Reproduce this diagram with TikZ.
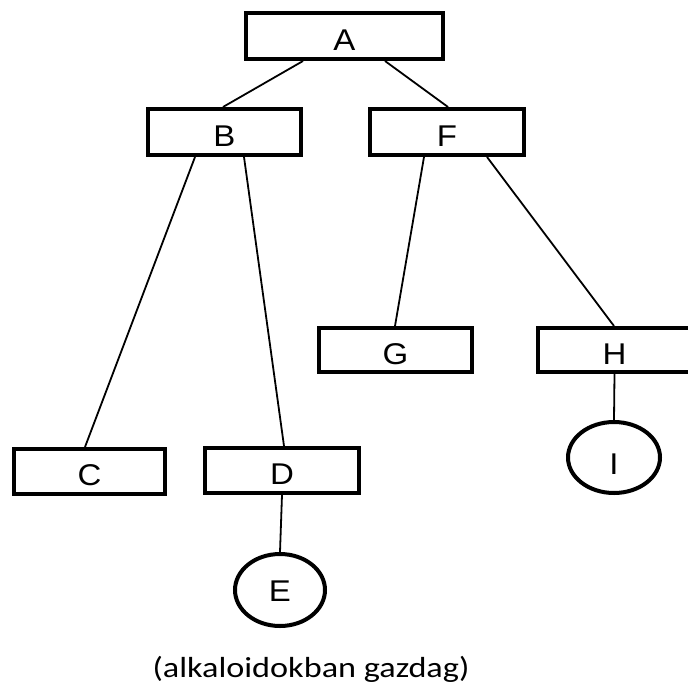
\documentclass[tikz,border=0pt]{standalone}
\usepackage{fontspec}
\setmainfont[FakeStretch=1.1]{Liberation Sans}
\newfontfamily\capfont[FakeStretch=1.18]{Carlito}
\usetikzlibrary{calc,shapes.geometric}

\begin{document}
\begin{tikzpicture}[x=1pt,y=-1pt,
  box/.style={draw, line width=4pt, inner sep=0pt, minimum height=46pt,
    text height=28.5pt, text depth=0pt,
    font=\fontsize{30}{30}\selectfont},
  oval/.style={ellipse, draw, line width=4pt, inner sep=0pt,
    text height=23pt, text depth=0pt,
    font=\fontsize{30}{30}\selectfont},
  link/.style={line width=1.8pt}]

  % page
  \fill[white] (0,0) rectangle (688,683);
  \useasboundingbox (0,0) rectangle (688,683);

  % boxes
  \node[box, minimum width=197pt] (A) at (344.5,36) {A};
  \node[box, minimum width=153pt] (B) at (224.5,132) {B};
  \node[box, minimum width=154pt] (F) at (447,132) {F};
  \node[box, minimum width=153pt, minimum height=44pt] (G) at (395.5,350) {G};
  \node[box, minimum width=153pt, minimum height=44pt] (H) at (614.5,350) {H};
  \node[box, minimum width=151pt, minimum height=45pt] (C) at (89.5,471.5) {C};
  \node[box, minimum width=154pt, minimum height=45pt] (D) at (282,470.5) {D};

  % ovals
  \node[oval, minimum width=90pt, minimum height=72pt] (E) at (280,590) {E};
  \node[oval, minimum width=92pt, minimum height=71pt, text height=34pt] (I) at (614,457.5) {I};

  % connectors
  \draw[link] ($(A.south)+(-41.5,0)$) -- ($(B.north)+(-1.5,0)$);
  \draw[link] ($(A.south)+(40.5,0)$) -- ($(F.north)+(1,0)$);
  \draw[link] ($(B.south)+(-29.5,0)$) -- ($(C.north)+(-4.5,0)$);
  \draw[link] ($(B.south)+(19.5,0)$) -- ($(D.north)+(2,0)$);
  \draw[link] ($(F.south)+(-23,0)$) -- ($(G.north)+(-0.5,0)$);
  \draw[link] ($(F.south)+(40,0)$) -- ($(H.north)+(-0.5,0)$);
  \draw[link] (H.south) -- (I.north);
  \draw[link] (D.south) -- (E.north);

  % caption
  \node[anchor=base, inner sep=0pt, font=\capfont\fontsize{29}{29}\selectfont] (cap)
    at (311,677) {(alkaloidokban gazdag)};
\end{tikzpicture}
\end{document}
